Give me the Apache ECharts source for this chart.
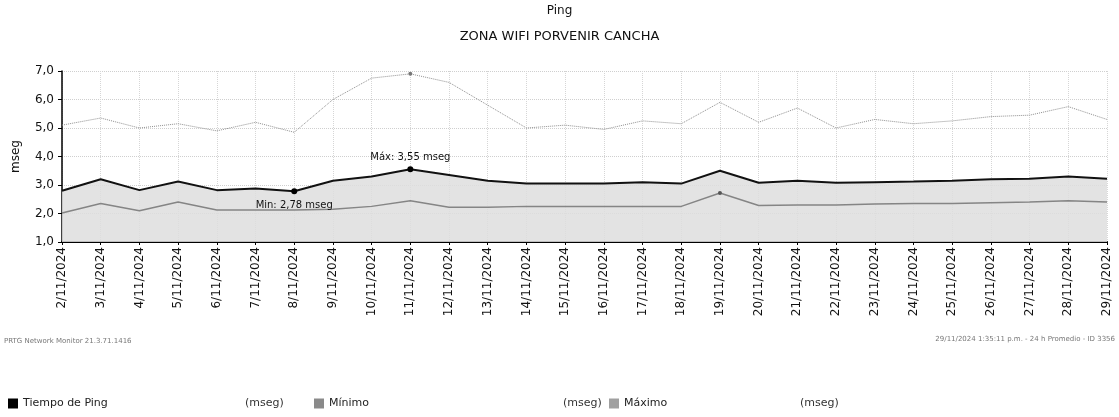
<!DOCTYPE html>
<html>
<head>
    <meta charset="utf-8">
    <script src="https://cdn.jsdelivr.net/npm/echarts@6/dist/echarts.min.js"></script>
    <style>
        html, body {margin: 0; padding: 0; background: #ffffff;}
        #chart {width: 1119px; height: 417px;}
    </style>
</head>
<body>
<div id="chart"></div>
<script>
    // fechas del eje x
    var dias = ['2/11/2024', '3/11/2024', '4/11/2024', '5/11/2024', '6/11/2024', '7/11/2024', '8/11/2024',
        '9/11/2024', '10/11/2024', '11/11/2024', '12/11/2024', '13/11/2024', '14/11/2024', '15/11/2024',
        '16/11/2024', '17/11/2024', '18/11/2024', '19/11/2024', '20/11/2024', '21/11/2024', '22/11/2024',
        '23/11/2024', '24/11/2024', '25/11/2024', '26/11/2024', '27/11/2024', '28/11/2024', '29/11/2024'];

    // valores en mseg
    var tiempoPing = [2.80, 3.20, 2.82, 3.12, 2.82, 2.88, 2.78, 3.15, 3.30, 3.55, 3.35, 3.15, 3.05, 3.05,
        3.05, 3.10, 3.05, 3.50, 3.08, 3.15, 3.08, 3.10, 3.12, 3.15, 3.20, 3.22, 3.30, 3.22];
    var minimo = [2.02, 2.35, 2.10, 2.40, 2.12, 2.12, 2.12, 2.15, 2.25, 2.45, 2.22, 2.22, 2.25, 2.25,
        2.25, 2.25, 2.25, 2.72, 2.28, 2.30, 2.30, 2.33, 2.35, 2.35, 2.38, 2.40, 2.45, 2.40];
    var maximo = [5.10, 5.35, 5.00, 5.15, 4.90, 5.20, 4.85, 6.00, 6.75, 6.90, 6.60, 5.80, 5.00, 5.10,
        4.95, 5.25, 5.15, 5.90, 5.20, 5.70, 5.00, 5.30, 5.15, 5.25, 5.40, 5.45, 5.75, 5.30];

    var ejeY = [1, 7, 1]; // min, max, intervalo

    var fuente = 'DejaVu Sans';

    var myChart = echarts.init(document.getElementById('chart'));

    var leyenda = {textStyle: {fontSize: 11, color: '#222', fontFamily: fuente},
        icon: 'rect', itemWidth: 10, itemHeight: 10, itemGap: 4, padding: 0, top: 398};

    var option = {
        backgroundColor: '#ffffff',
        animation: false,
        textStyle: {fontFamily: fuente},
        title: [
            {text: 'Ping', left: 'center', top: 0, textStyle: {fontSize: 12, fontWeight: 'normal', color: '#111', fontFamily: fuente}},
            {text: 'ZONA WIFI PORVENIR CANCHA', left: 'center', top: 25, textStyle: {fontSize: 13, fontWeight: 'normal', color: '#111', fontFamily: fuente}}
        ],
        legend: [
            Object.assign({data: ['Tiempo de Ping'], left: 8}, leyenda),
            Object.assign({data: ['Mínimo'], left: 314}, leyenda),
            Object.assign({data: ['Máximo'], left: 609}, leyenda)
        ],
        graphic: [
            {type: 'text', left: 245, top: 398, style: {text: '(mseg)', fontSize: 11, fill: '#333', fontFamily: fuente}},
            {type: 'text', left: 563, top: 398, style: {text: '(mseg)', fontSize: 11, fill: '#333', fontFamily: fuente}},
            {type: 'text', left: 800, top: 398, style: {text: '(mseg)', fontSize: 11, fill: '#333', fontFamily: fuente}},
            {type: 'text', left: 4, top: 338, style: {text: 'PRTG Network Monitor 21.3.71.1416', fontSize: 7, fill: '#777', fontFamily: fuente}},
            {type: 'text', right: 4, top: 336, style: {text: '29/11/2024 1:35:11 p.m. - 24 h Promedio - ID 3356', fontSize: 7, fill: '#777', fontFamily: fuente}}
        ],
        grid: {left: 62, right: 12, top: 71, bottom: 175, containLabel: false},
        xAxis: {
            type: 'category',
            boundaryGap: false,
            data: dias,
            axisLine: {lineStyle: {color: '#000', width: 2}},
            axisTick: {show: true, alignWithLabel: true, length: 3, lineStyle: {color: '#000'}},
            axisLabel: {rotate: 90, interval: 0, margin: 5, fontSize: 12, color: '#111', fontFamily: fuente},
            splitLine: {show: true, lineStyle: {color: '#d6d6d6', type: 'dotted', width: 1}}
        },
        yAxis: {
            type: 'value',
            min: ejeY[0],
            max: ejeY[1],
            interval: ejeY[2],
            name: 'mseg',
            nameLocation: 'middle',
            nameGap: 40,
            nameTextStyle: {fontSize: 12, color: '#111', fontFamily: fuente},
            axisLine: {show: true, lineStyle: {color: '#000', width: 1.5}},
            axisTick: {show: true, length: 4, lineStyle: {color: '#000'}},
            axisLabel: {
                fontSize: 12, color: '#111', margin: 8, fontFamily: fuente,
                formatter: function (v) { return v.toFixed(1).replace('.', ','); }
            },
            splitLine: {show: true, lineStyle: {color: '#cfcfcf', type: 'dotted', width: 1}}
        },
        series: [
            {
                name: 'Tiempo de Ping',
                type: 'line',
                data: tiempoPing,
                symbol: 'none',
                z: 2,
                itemStyle: {color: '#000'},
                lineStyle: {color: '#111', width: 2},
                areaStyle: {color: '#dedede', opacity: 0.85},
                markPoint: {
                    symbol: 'circle',
                    symbolSize: 6,
                    itemStyle: {color: '#000'},
                    data: [
                        {type: 'max', label: {show: true, position: 'top', distance: 4,
                            formatter: function (p) { return 'Máx: ' + p.value.toFixed(2).replace('.', ',') + ' mseg'; }}},
                        {type: 'min', label: {show: true, position: 'bottom', distance: 6,
                            formatter: function (p) { return 'Min: ' + p.value.toFixed(2).replace('.', ',') + ' mseg'; }}}
                    ],
                    label: {fontSize: 10, color: '#111', fontFamily: fuente}
                }
            },
            {
                name: 'Mínimo',
                type: 'line',
                data: minimo,
                symbol: 'none',
                z: 3,
                itemStyle: {color: '#8a8a8a'},
                lineStyle: {color: '#858585', width: 1.5},
                markPoint: {
                    symbol: 'circle',
                    symbolSize: 4,
                    itemStyle: {color: '#555'},
                    label: {show: false},
                    data: [{type: 'max'}]
                }
            },
            {
                name: 'Máximo',
                type: 'line',
                data: maximo,
                symbol: 'none',
                z: 3,
                itemStyle: {color: '#a0a0a0'},
                lineStyle: {color: '#8f8f8f', width: 1, type: 'dotted'},
                markPoint: {
                    symbol: 'circle',
                    symbolSize: 4,
                    itemStyle: {color: '#777'},
                    label: {show: false},
                    data: [{type: 'max'}]
                }
            }
        ]
    };

    myChart.setOption(option);
</script>
</body>
</html>
